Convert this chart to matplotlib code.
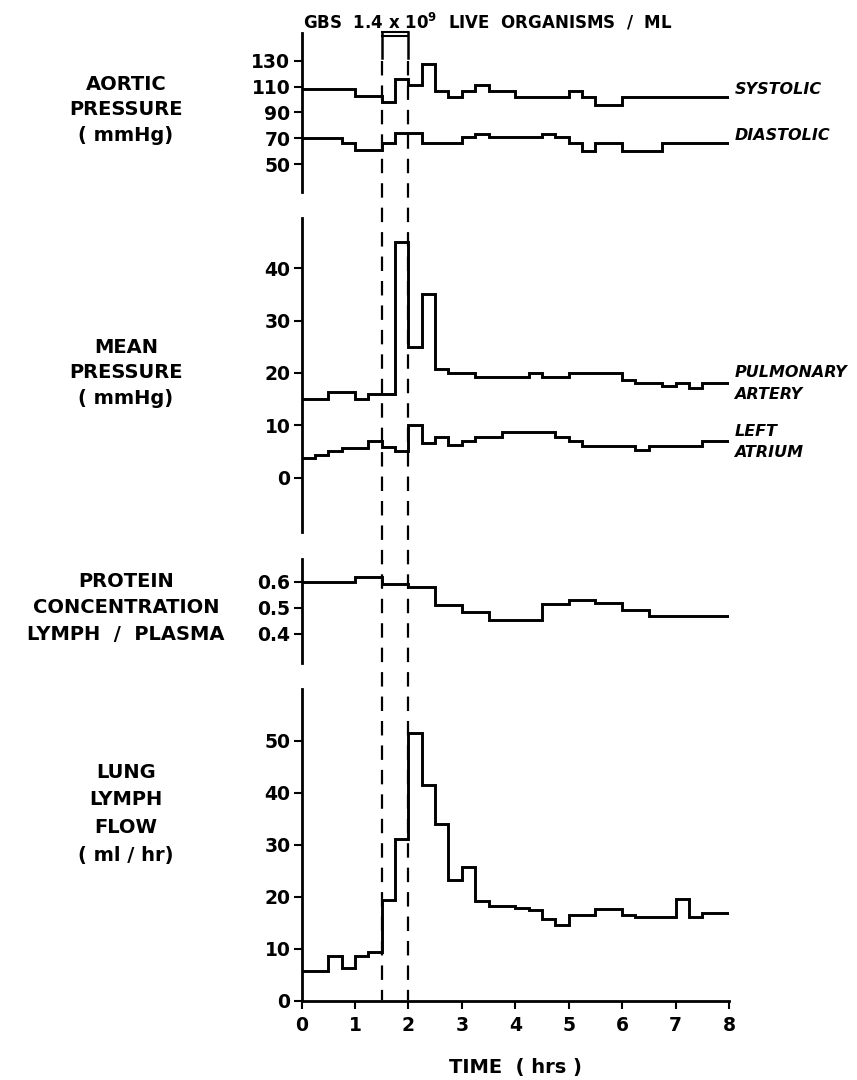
import numpy as np
import matplotlib
matplotlib.use("Agg")
import matplotlib.pyplot as plt
from matplotlib import transforms
from matplotlib.lines import Line2D

# step traces: time edges (hrs) and the value held over each interval
SYS_EDGES = [0, 1.0, 1.5, 1.75, 2.0, 2.25, 2.5, 2.75, 3.0, 3.25, 3.5, 4.0, 5.0, 5.25, 5.5, 6.0, 8.0]
SYS_VALS = [108, 103, 98, 116, 111, 128, 107, 102, 107, 111, 107, 102, 107, 102, 96, 102]

DIA_EDGES = [0, 0.75, 1.0, 1.5, 1.75, 2.25, 3.0, 3.25, 3.5, 4.5, 4.75, 5.0, 5.25, 5.5, 6.0, 6.75, 8.0]
DIA_VALS = [70, 66, 61, 66, 74, 66, 71, 73, 71, 73, 71, 66, 60, 66, 60, 66]

PA_EDGES = [0, 0.5, 1.0, 1.25, 1.75, 2.0, 2.25, 2.5, 2.75, 3.25, 4.25, 4.5, 5.0, 6.0, 6.25, 6.75, 7.0, 7.25, 7.5, 8.0]
PA_VALS = [15, 16.4, 15, 16, 45, 25, 35, 20.8, 20, 19.2, 20, 19.2, 20, 18.7, 18, 17.5, 18, 17.2, 18]

LA_EDGES = [0, 0.25, 0.5, 0.75, 1.25, 1.5, 1.75, 2.0, 2.25, 2.5, 2.75, 3.0, 3.25, 3.75, 4.75, 5.0, 5.25, 6.25, 6.5, 7.5, 8.0]
LA_VALS = [3.8, 4.3, 5.1, 5.7, 7.0, 5.9, 5.1, 10.1, 6.7, 7.8, 6.2, 6.9, 7.8, 8.8, 7.8, 6.9, 6.1, 5.2, 6.1, 7.0]

PROT_EDGES = [0, 1.0, 1.5, 2.0, 2.5, 3.0, 3.5, 4.5, 5.0, 5.5, 6.0, 6.5, 8.0]
PROT_VALS = [0.60, 0.62, 0.59, 0.58, 0.51, 0.485, 0.455, 0.515, 0.53, 0.52, 0.49, 0.467]

FLOW_EDGES = [0, 0.5, 0.75, 1.0, 1.25, 1.5, 1.75, 2.0, 2.25, 2.5, 2.75, 3.0, 3.25, 3.5, 4.0,
              4.25, 4.5, 4.75, 5.0, 5.5, 6.0, 6.25, 7.0, 7.25, 7.5, 8.0]
FLOW_VALS = [5.8, 8.7, 6.3, 8.7, 9.5, 19.4, 31.2, 51.5, 41.5, 34.0, 23.2, 25.8, 19.2, 18.3,
             17.8, 17.5, 15.8, 14.6, 16.5, 17.6, 16.5, 16.2, 19.7, 16.2, 17.0]

INFUSION = (1.5, 2.0)
X_TICKS = [0, 1, 2, 3, 4, 5, 6, 7, 8]

plt.rcParams['font.family'] = ['DejaVu Sans']
plt.rcParams['font.weight'] = 'bold'
plt.rcParams['axes.labelweight'] = 'bold'
plt.rcParams['mathtext.default'] = 'bf'

W, H = 857, 1080
X0, X8 = 301.5, 729.0
LW = 2.1
TICK_FS = 13.5


def fx(px):
    return px / W


def fy(py):
    return 1 - py / H


def panel(fig, top_px, bot_px, ylim, yticks, yticklabels=None):
    ax = fig.add_axes([fx(X0), fy(bot_px), (X8 - X0) / W, (bot_px - top_px) / H])
    ax.set_xlim(0, 8)
    ax.set_ylim(*ylim)
    for s in ['top', 'right', 'bottom']:
        ax.spines[s].set_visible(False)
    ax.spines['left'].set_linewidth(2)
    ax.set_yticks(yticks)
    if yticklabels:
        ax.set_yticklabels(yticklabels)
    ax.tick_params(axis='y', length=6, width=1.5, pad=2, labelsize=TICK_FS)
    ax.set_xticks([])
    ax.patch.set_visible(False)
    return ax


fig = plt.figure(figsize=(W / 100, H / 100), dpi=100)

ax1 = panel(fig, 33, 192, (28.3, 151.7), [50, 70, 90, 110, 130])
ax2 = panel(fig, 218, 532, (-10.4, 49.6), [0, 10, 20, 30, 40])
ax3 = panel(fig, 559, 663, (0.289, 0.687), [0.4, 0.5, 0.6], ['0.4', '0.5', '0.6'])
ax4 = panel(fig, 689, 1001, (0, 60), [0, 10, 20, 30, 40, 50])
ax4.spines['bottom'].set_visible(True)
ax4.spines['bottom'].set_linewidth(2)
ax4.set_xticks(X_TICKS)
ax4.tick_params(axis='x', length=6, width=1.5, pad=5, labelsize=TICK_FS)
ax4.set_xlabel('TIME  ( hrs )', fontsize=14, fontweight='bold', labelpad=16)

ax1.stairs(SYS_VALS, SYS_EDGES, baseline=None, color='black', lw=LW)
ax1.stairs(DIA_VALS, DIA_EDGES, baseline=None, color='black', lw=LW)
ax2.stairs(PA_VALS, PA_EDGES, baseline=None, color='black', lw=LW)
ax2.stairs(LA_VALS, LA_EDGES, baseline=None, color='black', lw=LW)
ax3.stairs(PROT_VALS, PROT_EDGES, baseline=None, color='black', lw=LW)
ax4.stairs(FLOW_VALS, FLOW_EDGES, baseline=None, color='black', lw=LW)

# trace names at the right end
lab = dict(fontsize=11.5, style='italic', va='center', ha='left', clip_on=False)
ax1.text(8.1, SYS_VALS[-1] + 5.5, 'SYSTOLIC', **lab)
ax1.text(8.1, DIA_VALS[-1] + 6.5, 'DIASTOLIC', **lab)
ax2.text(8.1, PA_VALS[-1], 'PULMONARY\nARTERY', linespacing=1.55, **lab)
ax2.text(8.1, LA_VALS[-1] - 0.2, 'LEFT\nATRIUM', linespacing=1.55, **lab)

# panel titles on the left
left = dict(fontsize=14, ha='center', va='center')
for ax, yc, ls, txt in [(ax1, 92, 1.44, 'AORTIC\nPRESSURE\n( mmHg)'),
                        (ax2, 20, 1.42, 'MEAN\nPRESSURE\n( mmHg)'),
                        (ax3, 0.5, 1.5, 'PROTEIN\nCONCENTRATION\nLYMPH  /  PLASMA'),
                        (ax4, 36, 1.58, 'LUNG\nLYMPH\nFLOW\n( ml / hr)')]:
    tr = transforms.blended_transform_factory(fig.transFigure, ax.transData)
    fig.text(fx(126), yc, txt, transform=tr, linespacing=ls, **left)

# infusion period: box at the top and dashed guides down to the time axis
tr = transforms.blended_transform_factory(ax4.transData, fig.transFigure)
for xv in INFUSION:
    fig.add_artist(Line2D([xv, xv], [fy(32), fy(58)], transform=tr, color='black', lw=1.8))
    fig.add_artist(Line2D([xv, xv], [fy(61), fy(1000)], transform=tr, color='black',
                          lw=1.6, dashes=(6.5, 4.5)))
for yp in (32, 36):
    fig.add_artist(Line2D(list(INFUSION), [fy(yp), fy(yp)], transform=tr, color='black', lw=1.5))

fig.text(fx(303), fy(22), r'GBS  1.4 x 10$^{9}$  LIVE  ORGANISMS  /  ML', fontsize=12,
         ha='left', va='center')

fig.savefig('out.png', dpi=100)
